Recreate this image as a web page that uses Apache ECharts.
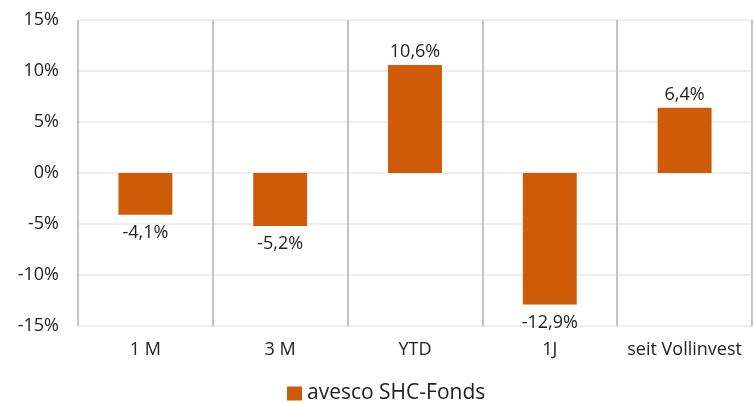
<!DOCTYPE html>
<html><head><meta charset="utf-8">
<script src="https://cdn.jsdelivr.net/npm/echarts@6/dist/echarts.min.js"></script>
<style>html,body{margin:0;padding:0;background:#fff}#c{width:754px;height:403px}</style>
</head><body><div id="c"></div>
<script>
const categories = ['1 M', '3 M', 'YTD', '1J', 'seit Vollinvest'];
const values = [-4.1, -5.2, 10.6, -12.9, 6.4];
const seriesName = 'avesco SHC-Fonds';
const FONT = 'Open Sans';
const chart = echarts.init(document.getElementById('c'));
chart.setOption({
  animation: false,
  textStyle: {fontFamily: FONT},
  legend: {
    data: [seriesName], top: 383, left: 287, padding: 0,
    itemWidth: 15, itemHeight: 14, itemGap: 4,
    textStyle: {fontSize: 21, color: '#222', fontFamily: FONT},
    icon: 'rect'
  },
  grid: {left: 78, right: 2, top: 20, bottom: 77},
  xAxis: {
    type: 'category', data: categories, position: 'bottom',
    axisLine: {show: false}, axisTick: {show: false},
    axisLabel: {fontSize: 18, color: '#222', margin: 15, interval: 0, fontFamily: FONT},
    splitLine: {show: true, interval: 0, lineStyle: {color: '#c4c4c4', width: 2}}
  },
  yAxis: {
    type: 'value', min: -15, max: 15, interval: 5,
    axisLine: {show: false}, axisTick: {show: false},
    axisLabel: {fontSize: 18, color: '#222', margin: 19, formatter: v => v + '%', fontFamily: FONT},
    splitLine: {lineStyle: {color: '#eeeeee', width: 2}}
  },
  series: [{
    name: seriesName, type: 'bar', barWidth: '40%',
    data: values.map(v => ({value: v, label: v < 0 ? {position: 'bottom', distance: 9} : {position: 'top', distance: 4}})),
    itemStyle: {color: '#cf5a07'},
    label: {
      show: true, fontSize: 18, color: '#222', fontFamily: FONT,
      formatter: p => String(p.value).replace('.', ',') + '%'
    }
  }]
});
</script></body></html>
